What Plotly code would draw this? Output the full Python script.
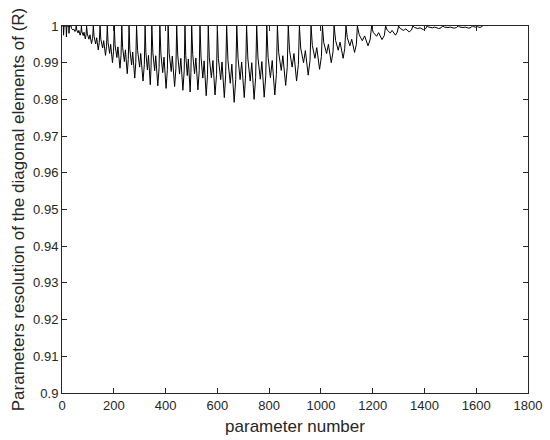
import plotly.graph_objects as go

# Parameter numbers (x) and resolution values (y).
# One sawtooth cycle per line.
param_no = [
    1, 5, 6, 8, 16, 17, 19, 26, 27, 29,
    35, 37, 42, 45, 50, 53,
    55, 57, 62, 65, 70, 73,
    75, 77, 82, 85, 90, 93,
    95, 98, 104, 108, 114, 118,
    121, 124, 130, 134, 140, 144,
    147, 150, 157, 161, 168, 172,
    175, 178, 184, 188, 195, 199,
    202, 205, 212, 216, 224, 228,
    231, 234, 241, 245, 252, 256,
    259, 262, 269, 273, 281, 285,
    288, 292, 300, 304, 313, 318,
    321, 324, 330, 334, 341, 344,
    347, 351, 358, 362, 370, 375,
    378, 382, 389, 394, 402, 407,
    410, 414, 422, 426, 435, 440,
    443, 447, 454, 459, 467, 472,
    475, 478, 484, 488, 495, 498,
    501, 505, 512, 517, 525, 530,
    533, 537, 544, 549, 557, 562,
    565, 569, 577, 583, 591, 597,
    600, 604, 613, 618, 627, 632,
    636, 641, 650, 656, 665, 671,
    675, 680, 688, 694, 704, 709,
    713, 718, 727, 733, 742, 748,
    752, 757, 766, 772, 781, 787,
    791, 796, 805, 812, 822, 828,
    832, 837, 847, 853, 864, 870,
    874, 879, 889, 896, 906, 913,
    917, 922, 933, 940, 951, 958,
    962, 967, 977, 984, 995, 1002,
    1006, 1011, 1022, 1029, 1040, 1047,
    1051, 1057, 1067, 1074, 1086, 1092,
    1097, 1102, 1112, 1119, 1130, 1137,
    1141, 1148, 1160, 1169, 1182, 1190,
    1196, 1202, 1215, 1223, 1236, 1245,
    1250, 1256, 1268, 1275, 1288, 1295,
    1300, 1307, 1319, 1328, 1341, 1350,
    1355, 1362, 1374, 1383, 1396, 1405,
    1410, 1417, 1431, 1440, 1455, 1464,
    1470, 1477, 1491, 1500, 1515, 1524,
    1530, 1537, 1549, 1558, 1571, 1580,
    1585, 1590, 1599, 1605, 1615, 1621,
    1625,
]

resolution = [
    1.0, 1.0, 0.9975, 1.0, 1.0, 0.997, 1.0, 1.0, 0.998, 1.0,
    1.0, 0.9993, 0.9989, 0.9992, 0.9985, 0.9990,
    1.0, 0.9989, 0.9981, 0.9988, 0.9975, 0.9983,
    1.0, 0.9984, 0.9974, 0.9983, 0.9965, 0.9976,
    1.0, 0.9978, 0.9964, 0.9976, 0.9952, 0.9966,
    1.0, 0.9971, 0.9951, 0.9968, 0.9935, 0.9955,
    1.0, 0.9964, 0.9940, 0.9960, 0.9920, 0.9944,
    1.0, 0.9955, 0.9925, 0.9950, 0.9900, 0.9930,
    1.0, 0.9948, 0.9914, 0.9943, 0.9885, 0.9920,
    1.0, 0.9942, 0.9903, 0.9935, 0.9870, 0.9909,
    1.0, 0.9936, 0.9894, 0.9929, 0.9858, 0.9901,
    1.0, 0.9933, 0.9888, 0.9925, 0.9850, 0.9895,
    1.0, 0.9928, 0.9880, 0.9920, 0.9840, 0.9888,
    1.0, 0.9927, 0.9878, 0.9919, 0.9837, 0.9886,
    1.0, 0.9924, 0.9873, 0.9915, 0.9830, 0.9881,
    1.0, 0.9926, 0.9876, 0.9918, 0.9835, 0.9885,
    1.0, 0.9921, 0.9869, 0.9912, 0.9825, 0.9878,
    1.0, 0.9919, 0.9865, 0.9910, 0.9820, 0.9874,
    1.0, 0.9922, 0.9870, 0.9913, 0.9826, 0.9878,
    1.0, 0.9915, 0.9858, 0.9905, 0.9810, 0.9867,
    1.0, 0.9915, 0.9859, 0.9906, 0.9812, 0.9868,
    1.0, 0.9912, 0.9854, 0.9902, 0.9805, 0.9864,
    1.0, 0.9906, 0.9844, 0.9896, 0.9792, 0.9854,
    1.0, 0.9912, 0.9854, 0.9902, 0.9805, 0.9864,
    1.0, 0.9910, 0.9850, 0.9900, 0.9800, 0.9860,
    1.0, 0.9913, 0.9855, 0.9903, 0.9806, 0.9864,
    1.0, 0.9915, 0.9859, 0.9906, 0.9812, 0.9868,
    1.0, 0.9927, 0.9879, 0.9919, 0.9838, 0.9887,
    1.0, 0.9933, 0.9888, 0.9925, 0.9850, 0.9895,
    1.0, 0.9940, 0.9900, 0.9933, 0.9866, 0.9906,
    1.0, 0.9947, 0.9912, 0.9941, 0.9882, 0.9917,
    1.0, 0.9955, 0.9925, 0.9950, 0.9900, 0.9930,
    1.0, 0.9960, 0.9934, 0.9956, 0.9912, 0.9938,
    1.0, 0.9968, 0.9946, 0.9964, 0.9928, 0.9950,
    1.0, 0.9976, 0.9960, 0.9973, 0.9946, 0.9962,
    1.0, 0.9983, 0.9972, 0.9982, 0.9963, 0.9974,
    1.0, 0.9989, 0.9981, 0.9988, 0.9975, 0.9983,
    1.0, 0.9993, 0.9988, 0.9992, 0.9984, 0.9989,
    1.0, 0.9996, 0.9993, 0.9995, 0.9990, 0.9993,
    1.0, 0.9997, 0.9995, 0.9997, 0.9993, 0.9995,
    1.0, 0.9997, 0.9996, 0.9997, 0.9994, 0.9996,
    1.0, 0.9997, 0.9996, 0.9997, 0.9994, 0.9996,
    1.0, 0.9998, 0.9997, 0.9998, 0.9996, 0.9998,
    1.0,
]

x_tick_vals = [0, 200, 400, 600, 800, 1000, 1200, 1400, 1600, 1800]
y_tick_vals = [0.9, 0.91, 0.92, 0.93, 0.94, 0.95, 0.96, 0.97, 0.98, 0.99, 1.0]
y_tick_text = ["0.9", "0.91", "0.92", "0.93", "0.94", "0.95", "0.96", "0.97", "0.98", "0.99", "1"]

axis_color = "#262626"
font_family = "Liberation Sans, Arial, sans-serif"

fig = go.Figure()
fig.add_trace(go.Scatter(
    x=param_no, y=resolution, mode="lines",
    line=dict(color="black", width=1),
    showlegend=False, hoverinfo="skip",
))

axis_common = dict(
    showline=True, linecolor=axis_color, linewidth=1, mirror="ticks",
    ticks="inside", ticklen=5, tickwidth=1, tickcolor=axis_color,
    showgrid=False, zeroline=False,
    tickfont=dict(family=font_family, size=13, color=axis_color),
)

fig.update_xaxes(
    range=[0, 1800], tickvals=x_tick_vals,
    title=dict(text="parameter number", font=dict(family=font_family, size=17, color=axis_color), standoff=8),
    **axis_common,
)
fig.update_yaxes(
    range=[0.9, 1.0], tickvals=y_tick_vals, ticktext=y_tick_text,
    title=dict(text="Parameters resolution of the diagonal elements of (R)",
               font=dict(family=font_family, size=17, color=axis_color), standoff=4),
    **axis_common,
)

fig.update_layout(
    width=550, height=440,
    margin=dict(l=62, r=22, t=26, b=47, autoexpand=False),
    paper_bgcolor="white", plot_bgcolor="white",
)

fig.write_html(
    "out.html",
    config={"displayModeBar": False, "staticPlot": True},
    post_script="document.body.style.margin='0';document.body.style.padding='0';",
)
